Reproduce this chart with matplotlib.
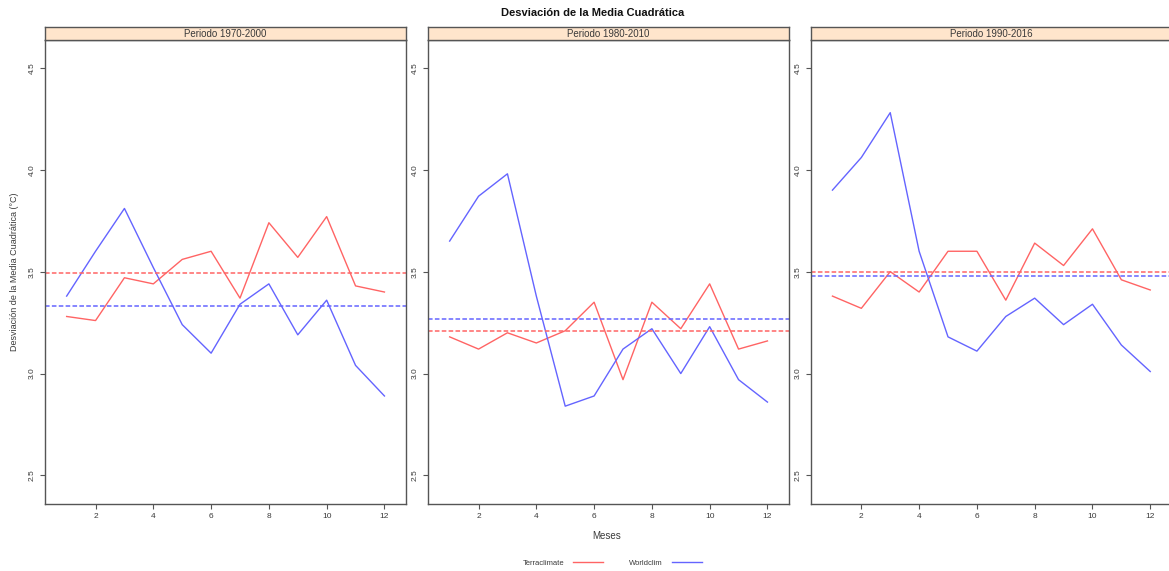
import numpy as np
import matplotlib
matplotlib.use("Agg")
import matplotlib.pyplot as plt
from matplotlib.lines import Line2D

plt.rcParams['font.family'] = ['Liberation Sans', 'DejaVu Sans']

# datos
meses = np.arange(1, 13)
periodos = ['Periodo 1970-2000', 'Periodo 1980-2010', 'Periodo 1990-2016']

terra_1970 = [3.28, 3.26, 3.47, 3.44, 3.56, 3.60, 3.37, 3.74, 3.57, 3.77, 3.43, 3.40]
world_1970 = [3.38, 3.60, 3.81, 3.52, 3.24, 3.10, 3.34, 3.44, 3.19, 3.36, 3.04, 2.89]
terra_1980 = [3.18, 3.12, 3.20, 3.15, 3.21, 3.35, 2.97, 3.35, 3.22, 3.44, 3.12, 3.16]
world_1980 = [3.65, 3.87, 3.98, 3.38, 2.84, 2.89, 3.12, 3.22, 3.00, 3.23, 2.97, 2.86]
terra_1990 = [3.38, 3.32, 3.50, 3.40, 3.60, 3.60, 3.36, 3.64, 3.53, 3.71, 3.46, 3.41]
world_1990 = [3.90, 4.06, 4.28, 3.60, 3.18, 3.11, 3.28, 3.37, 3.24, 3.34, 3.14, 3.01]

media_terra = [3.495, 3.207, 3.497]
media_world = [3.333, 3.270, 3.479]

terra = [terra_1970, terra_1980, terra_1990]
world = [world_1970, world_1980, world_1990]

c_red = '#ff6464'
c_blue = '#6464ff'
c_axis = '#555555'
c_txt = '#3a3a3a'

W, H = 1169, 571
fig = plt.figure(figsize=(W / 100, H / 100), dpi=100)

lefts = [44.7, 427.7, 810.5]
pw = 361.7
top_ax = 40.3
bot_ax = 504
strip_h = 13

for i in range(3):
    ax = fig.add_axes([lefts[i] / W, (H - bot_ax) / H, pw / W, (bot_ax - top_ax) / H])
    ax.plot(meses, terra[i], color=c_red, lw=1.0)
    ax.plot(meses, world[i], color=c_blue, lw=1.0)
    ax.axhline(media_terra[i], color=c_red, lw=1.1, ls=(0, (3, 1.5)))
    ax.axhline(media_world[i], color=c_blue, lw=1.1, ls=(0, (3, 1.5)))
    ax.set_xlim(0.24, 12.76)
    ax.set_ylim(2.36, 4.635)
    ax.set_xticks([2, 4, 6, 8, 10, 12])
    ax.set_yticks([2.5, 3.0, 3.5, 4.0, 4.5])
    ax.set_yticklabels(['2.5', '3.0', '3.5', '4.0', '4.5'], rotation=90, va='center')
    ax.tick_params(direction='out', length=3.5, width=0.8, color=c_axis,
                   labelsize=6, labelcolor=c_txt, pad=3)
    for s in ax.spines.values():
        s.set_color(c_axis)
        s.set_linewidth(1.0)

    sax = fig.add_axes([lefts[i] / W, (H - top_ax) / H, pw / W, strip_h / H])
    sax.set_facecolor('#ffe5cc')
    sax.set_xticks([])
    sax.set_yticks([])
    for s in sax.spines.values():
        s.set_color(c_axis)
        s.set_linewidth(1.0)
    sax.text(0.5, 0.45, periodos[i], ha='center', va='center', fontsize=7, color=c_txt)

fig.text(593 / W, 1 - 13 / H, 'Desviación de la Media Cuadrática', ha='center', va='center',
         fontsize=8, fontweight='bold', color='#111111')
fig.text(15 / W, 1 - 272 / H, 'Desviación de la Media Cuadrática (°C)', rotation=90,
         ha='center', va='center', fontsize=6.5, color=c_txt)
fig.text(607 / W, 1 - 536 / H, 'Meses', ha='center', va='center', fontsize=7, color=c_txt)

handles = [Line2D([], [], color=c_red, lw=1.0), Line2D([], [], color=c_blue, lw=1.0)]
fig.legend(handles, ['Terraclimate', 'Worldclim'], loc='center', bbox_to_anchor=(612 / W, 1 - 563 / H),
           ncol=2, frameon=False, markerfirst=False, fontsize=5.5, handlelength=3.9,
           columnspacing=3.4, handletextpad=1.2, labelcolor=c_txt)

fig.savefig('out.png', dpi=100)
